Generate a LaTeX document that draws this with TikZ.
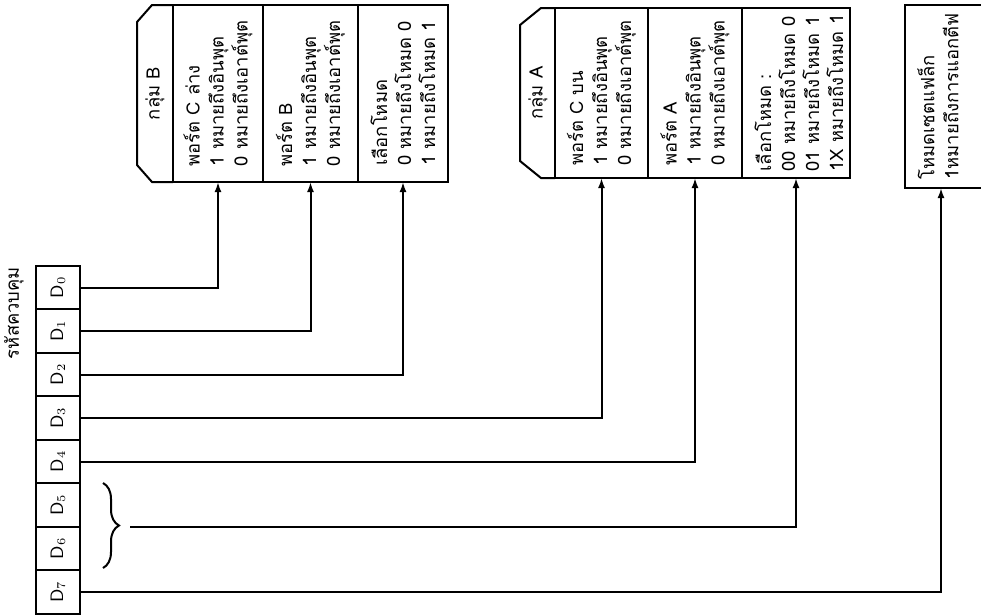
\documentclass[tikz,border=0pt]{standalone}
\usepackage{fontspec}
\newfontfamily\thaifont[Script=Thai]{Loma}
\usepackage{tikz}
\usetikzlibrary{arrows.meta,positioning,calc,decorations.pathreplacing}
\tikzset{
  cell/.style={draw, line width=1pt, minimum width=22pt, minimum height=21.75pt, outer sep=0pt, inner sep=0pt},
  colbox/.style={draw, line width=1pt, minimum height=88.5pt, outer sep=0pt, inner sep=0pt},
  txt/.style={rotate=90, align=left, inner sep=0pt, font=\thaifont\fontsize{9.2}{12}\selectfont},
  hdr/.style={line width=1pt},
  arrow/.style={-{Latex[length=5pt,width=3.5pt]}, line width=1pt}
}
\begin{document}
\begin{tikzpicture}[x=0.5pt,y=-0.5pt]
  \useasboundingbox (0,0) rectangle (981,616);
  \clip (0,0) rectangle (981,616);
  \node[txt] (title) at (14,313) {รหัสควบคุม};
  \foreach \i in {0,...,7} {
    \node[cell] (d\i) at (58,287.5+43.5*\i) {};
    \node[rotate=90, font=\small] at (d\i) {$\mathsf{D}_{\i}$};
  }
  % group B
  \node[colbox, minimum width=45pt] (portcl) at (218,93.5) {};
  \node[colbox, minimum width=47.5pt, right=0pt of portcl] (portb) {};
  \node[colbox, minimum width=45pt, right=0pt of portb] (modeb) {};
  \draw[hdr] (portcl.north west) -- ++(-21,0) -- ++(-15,17) -- ($(portcl.south west)+(-36,-17)$) -- ++(15,17) -- (portcl.south west);
  \node[txt] (grpb) at ($(portcl.west)+(-18,0)$) {กลุ่ม B};
  \node[txt] at (portcl) {พอร์ต C ล่าง\\1 หมายถึงอินพุต\\0 หมายถึงเอาต์พุต};
  \node[txt] at (portb) {พอร์ต B\\1 หมายถึงอินพุต\\0 หมายถึงเอาต์พุต};
  \node[txt] at (modeb) {เลือกโหมด\\0 หมายถึงโหมด 0\\1 หมายถึงโหมด 1};
  % group A
  \node[colbox, minimum width=46.5pt, minimum height=85pt] (portcu) at (601.5,93) {};
  \node[colbox, minimum width=47pt, minimum height=85pt, right=0pt of portcu] (porta) {};
  \node[colbox, minimum width=54pt, minimum height=85pt, right=0pt of porta] (modea) {};
  \draw[hdr] (portcu.north west) -- ++(-14,0) -- ++(-21,17) -- ($(portcu.south west)+(-35,-17)$) -- ++(21,17) -- (portcu.south west);
  \node[txt] (grpa) at ($(portcu.west)+(-17,0)$) {กลุ่ม A};
  \node[txt] at (portcu) {พอร์ต C บน\\1 หมายถึงอินพุต\\0 หมายถึงเอาต์พุต};
  \node[txt] at (porta) {พอร์ต A\\1 หมายถึงอินพุต\\0 หมายถึงเอาต์พุต};
  \node[txt] at ($(modea)+(3,0)$) {เลือกโหมด :\\00 หมายถึงโหมด 0\\01 หมายถึงโหมด 1\\1X หมายถึงโหมด 1};
  % mode set flag
  \node[colbox, minimum width=55pt, minimum height=91.5pt] (setf) at (960,96.5) {};
  \node[txt, anchor=north] at ($(setf.west)+(12,0)$) {โหมดเซตแฟล็ก\\1หมายถึงการแอกตีฟ};
  % connectors
  \draw[decorate, decoration={brace, amplitude=8pt}, line width=1pt] (103,483) -- (103,568);
  \coordinate (brtip) at (130,527);
  \draw[arrow] (d0.east) -| (portcl.south);
  \draw[arrow] (d1.east) -| (portb.south);
  \draw[arrow] (d2.east) -| (modeb.south);
  \draw[arrow] (d3.east) -| (portcu.south);
  \draw[arrow] (d4.east) -| (porta.south);
  \draw[arrow] (brtip) -| (modea.south);
  \draw[arrow] (d7.east) -| ([xshift=18pt]setf.south west);
\end{tikzpicture}
\end{document}
